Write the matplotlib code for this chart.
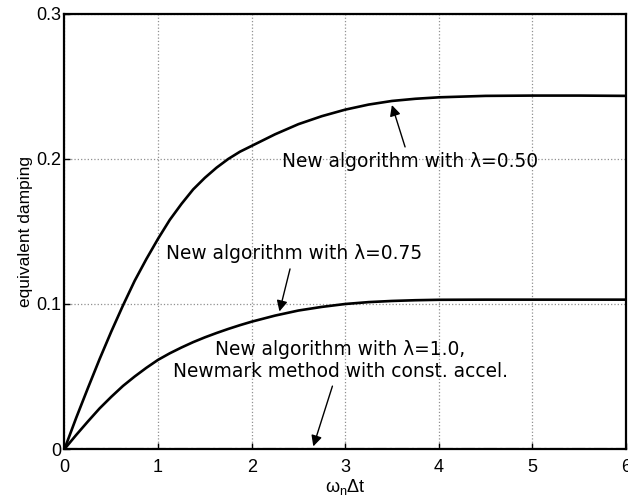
import matplotlib
matplotlib.use("Agg")
import matplotlib.pyplot as plt

# values
wdt = [0, 0.125, 0.25, 0.375, 0.5, 0.625, 0.75, 0.875, 1, 1.125, 1.25, 1.375,
       1.5, 1.625, 1.75, 1.875, 2, 2.25, 2.5, 2.75, 3, 3.25, 3.5, 3.75, 4,
       4.5, 5, 5.5, 6]
damp_050 = [0, 0.0215, 0.042, 0.062, 0.081, 0.099, 0.116, 0.131, 0.145, 0.158,
            0.169, 0.179, 0.187, 0.194, 0.200, 0.205, 0.209, 0.217, 0.224,
            0.2295, 0.234, 0.2375, 0.240, 0.2415, 0.2425, 0.2435, 0.2437,
            0.2437, 0.2435]
damp_075 = [0, 0.0097, 0.019, 0.028, 0.036, 0.0435, 0.050, 0.056, 0.0615, 0.066,
            0.070, 0.0737, 0.077, 0.080, 0.0828, 0.0854, 0.0878, 0.092, 0.0955,
            0.098, 0.100, 0.1013, 0.1021, 0.1026, 0.1029, 0.103, 0.103, 0.103,
            0.103]
damp_100 = [0] * len(wdt)

fig = plt.figure(figsize=(6.28, 5.03), dpi=100)
ax = fig.add_axes([0.1027, 0.1073, 0.894, 0.865])

ax.plot(wdt, damp_050, color='black', lw=1.9)
ax.plot(wdt, damp_075, color='black', lw=1.9)
ax.plot(wdt, damp_100, color='black', lw=1.5, ls='-.')

ax.set_xlim(0, 6)
ax.set_ylim(0, 0.3)
ax.set_xticks([0, 1, 2, 3, 4, 5, 6])
ax.set_yticks([0, 0.1, 0.2, 0.3])
ax.set_yticklabels(['0', '0.1', '0.2', '0.3'])
ax.tick_params(direction='in', length=4, width=1, labelsize=13)
ax.tick_params(axis='x', pad=7)
ax.tick_params(axis='y', pad=2)
for lab in ax.get_xticklabels() + ax.get_yticklabels():
    lab.set_family('Liberation Sans')
for s in ax.spines.values():
    s.set_linewidth(1.6)
ax.grid(True, ls=':', color='#909090', lw=0.9)

ax.set_ylabel('equivalent damping', family='Liberation Sans', fontsize=12.5, labelpad=3)
ax.set_xlabel(r'$\mathregular{\omega_n\Delta t}$', family='Liberation Sans', fontsize=13, labelpad=1)

arrow = dict(arrowstyle='-|>', color='black', lw=1.0, mutation_scale=16)
ax.annotate('New algorithm with λ=0.50', xy=(3.49, 0.239), xytext=(3.69, 0.198),
            ha='center', va='center', fontsize=13.4, arrowprops=arrow)
ax.annotate('New algorithm with λ=0.75', xy=(2.29, 0.093), xytext=(2.45, 0.1345),
            ha='center', va='center', fontsize=13.4, arrowprops=arrow)
ax.annotate('New algorithm with λ=1.0,\nNewmark method with const. accel.',
            xy=(2.65, 0.0), xytext=(2.95, 0.061),
            ha='center', va='center', fontsize=13.4, linespacing=1.15, arrowprops=arrow)

fig.savefig('out.png', dpi=100)
